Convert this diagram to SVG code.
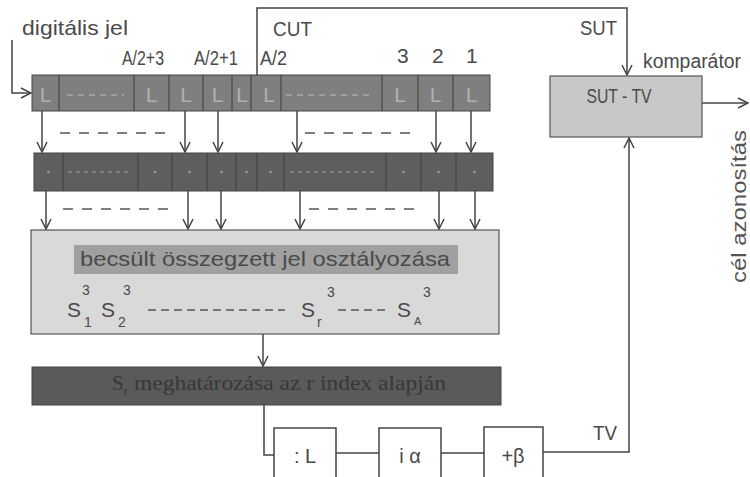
<svg xmlns="http://www.w3.org/2000/svg" width="750" height="477" viewBox="0 0 750 477">
<style>
text{font-family:"Liberation Sans",Arial,sans-serif;fill:#4a4a4a}
.lbl{font-size:20px}
.sm{font-size:14px}
.ln{fill:none;stroke:#444;stroke-width:1.5}
.arr{fill:none;stroke:#444;stroke-width:1.5;marker-end:url(#ah)}
.div{stroke:#3c3c3c;stroke-width:1}
.dash{stroke:#555;stroke-width:1.5;stroke-dasharray:10,9}
.L{font-size:21px;fill:#b0b0b0;text-anchor:middle}
.dot{fill:#9a9a9a}
</style>
<defs>
<marker id="ah" viewBox="0 0 12 12" refX="11" refY="6" markerWidth="12" markerHeight="12" markerUnits="userSpaceOnUse" orient="auto">
<path d="M1,1 L11,6 L1,11" fill="none" stroke="#444" stroke-width="1.5"/>
</marker>
</defs>
<rect width="750" height="477" fill="#ffffff"/>

<g id="connectors">
<path class="arr" d="M12,40 V93 H31"/>
<path class="arr" d="M257,111 V8 H627 V75"/>
<path class="arr" d="M702,103 H748"/>
<path class="arr" d="M543,452 H629 V138"/>
<path class="arr" d="M42,111 V152"/>
<path class="arr" d="M185,111 V152"/>
<path class="arr" d="M218,111 V152"/>
<path class="arr" d="M297,111 V152"/>
<path class="arr" d="M436,111 V152"/>
<path class="arr" d="M471,111 V152"/>
<line class="dash" x1="60" y1="133" x2="168" y2="133"/>
<line class="dash" x1="305" y1="133" x2="417" y2="133"/>
<path class="arr" d="M46,191 V229"/>
<path class="arr" d="M188,191 V229"/>
<path class="arr" d="M221,191 V229"/>
<path class="arr" d="M300,191 V229"/>
<path class="arr" d="M439,191 V229"/>
<path class="arr" d="M475,191 V229"/>
<line class="dash" x1="63" y1="209" x2="172" y2="209"/>
<line class="dash" x1="309" y1="209" x2="421" y2="209"/>
<path class="arr" d="M263,334 V366"/>
<path class="ln" d="M264,405 V455 H274"/>
<path class="ln" d="M336,453 H379"/>
<path class="ln" d="M441,453 H484"/>
</g>

<g id="labels">
<text class="lbl" x="22" y="35" style="font-size:21px" textLength="106" lengthAdjust="spacingAndGlyphs">digitális jel</text>
<text class="lbl" x="122" y="65" textLength="42" lengthAdjust="spacingAndGlyphs">A/2+3</text>
<text class="lbl" x="194" y="65" textLength="44" lengthAdjust="spacingAndGlyphs">A/2+1</text>
<text class="lbl" x="260" y="65" textLength="27" lengthAdjust="spacingAndGlyphs">A/2</text>
<text class="lbl" x="273" y="36" textLength="39" lengthAdjust="spacingAndGlyphs">CUT</text>
<text class="lbl" x="397" y="63" style="font-size:21px">3</text>
<text class="lbl" x="432" y="63" style="font-size:21px">2</text>
<text class="lbl" x="466" y="63" style="font-size:21px">1</text>
<text class="lbl" x="580" y="35" textLength="37" lengthAdjust="spacingAndGlyphs">SUT</text>
<text class="lbl" x="643" y="68" textLength="98" lengthAdjust="spacingAndGlyphs">komparátor</text>
<text class="lbl" x="593" y="440" textLength="24" lengthAdjust="spacingAndGlyphs">TV</text>
<text class="lbl" transform="translate(746,283) rotate(-90)" style="fill:#555" textLength="153" lengthAdjust="spacingAndGlyphs">cél azonosítás</text>
</g>

<g id="row1">
<rect x="32" y="75" width="458" height="36" fill="#7f7f7f" stroke="#444" stroke-width="1"/>
<line class="div" x1="59" y1="75" x2="59" y2="111"/>
<line class="div" x1="134" y1="75" x2="134" y2="111"/>
<line class="div" x1="169" y1="75" x2="169" y2="111"/>
<line class="div" x1="203" y1="75" x2="203" y2="111"/>
<line class="div" x1="232" y1="75" x2="232" y2="111"/>
<line class="div" x1="251" y1="75" x2="251" y2="111"/>
<line class="div" x1="281" y1="75" x2="281" y2="111"/>
<line class="div" x1="382" y1="75" x2="382" y2="111"/>
<line class="div" x1="418" y1="75" x2="418" y2="111"/>
<line class="div" x1="453" y1="75" x2="453" y2="111"/>
<text class="L" x="45.5" y="102">L</text>
<text class="L" x="151.5" y="102">L</text>
<text class="L" x="186" y="102">L</text>
<text class="L" x="217.5" y="102">L</text>
<text class="L" x="242" y="102">L</text>
<text class="L" x="269" y="102">L</text>
<text class="L" x="400" y="102">L</text>
<text class="L" x="435.5" y="102">L</text>
<text class="L" x="471.5" y="102">L</text>
<line x1="67" y1="95" x2="124" y2="95" stroke="#aaa" stroke-width="1.5" stroke-dasharray="6,5"/>
<line x1="286" y1="95" x2="370" y2="95" stroke="#aaa" stroke-width="1.5" stroke-dasharray="6,5"/>
</g>

<g id="row2">
<rect x="34" y="153" width="459" height="38" fill="#5e5e5e" stroke="#444" stroke-width="1"/>
<line class="div" x1="63" y1="153" x2="63" y2="191"/>
<line class="div" x1="138" y1="153" x2="138" y2="191"/>
<line class="div" x1="172" y1="153" x2="172" y2="191"/>
<line class="div" x1="207" y1="153" x2="207" y2="191"/>
<line class="div" x1="236" y1="153" x2="236" y2="191"/>
<line class="div" x1="257" y1="153" x2="257" y2="191"/>
<line class="div" x1="284" y1="153" x2="284" y2="191"/>
<line class="div" x1="386" y1="153" x2="386" y2="191"/>
<line class="div" x1="421" y1="153" x2="421" y2="191"/>
<line class="div" x1="456" y1="153" x2="456" y2="191"/>
<circle class="dot" cx="48.5" cy="172" r="1.3"/>
<circle class="dot" cx="155" cy="172" r="1.3"/>
<circle class="dot" cx="189.5" cy="172" r="1.3"/>
<circle class="dot" cx="221.5" cy="172" r="1.3"/>
<circle class="dot" cx="246.5" cy="172" r="1.3"/>
<circle class="dot" cx="270.5" cy="172" r="1.3"/>
<circle class="dot" cx="403.5" cy="172" r="1.3"/>
<circle class="dot" cx="438.5" cy="172" r="1.3"/>
<circle class="dot" cx="474.5" cy="172" r="1.3"/>
<line x1="68" y1="172" x2="132" y2="172" stroke="#8a8a8a" stroke-width="1.3" stroke-dasharray="4,4"/>
<line x1="290" y1="172" x2="378" y2="172" stroke="#8a8a8a" stroke-width="1.3" stroke-dasharray="4,4"/>
</g>

<g id="classifier">
<rect x="31" y="230" width="468" height="104" fill="#d9d9d9" stroke="#555" stroke-width="1.2"/>
<rect x="74" y="245" width="384" height="29" fill="#a0a0a0"/>
<text class="lbl" x="80" y="266" style="font-size:21px" textLength="370" lengthAdjust="spacingAndGlyphs">becsült összegzett jel osztályozása</text>
<text class="lbl" x="67" y="317" style="font-size:21px">S</text><text class="sm" x="84" y="327">1</text><text class="sm" x="82" y="295">3</text>
<text class="lbl" x="101" y="317" style="font-size:21px">S</text><text class="sm" x="118" y="327">2</text><text class="sm" x="123" y="295">3</text>
<line x1="148" y1="310" x2="285" y2="310" stroke="#555" stroke-width="1.5" stroke-dasharray="8,5"/>
<text class="lbl" x="301" y="317" style="font-size:21px">S</text><text class="sm" x="317" y="327">r</text><text class="sm" x="327" y="297">3</text>
<line x1="338" y1="310" x2="387" y2="310" stroke="#555" stroke-width="1.5" stroke-dasharray="8,5"/>
<text class="lbl" x="397" y="317" style="font-size:21px">S</text><text style="font-size:11px" x="414" y="325">A</text><text class="sm" x="423" y="297">3</text>
</g>

<g id="selector">
<rect x="32" y="367" width="469" height="38" fill="#5a5a5a" stroke="#444" stroke-width="1"/>
<text x="112" y="390" style="font-family:'Liberation Serif','Times New Roman',serif;font-size:21px;fill:#383838">S<tspan dy="5" style="font-size:13px">r</tspan><tspan dy="-5" textLength="318" lengthAdjust="spacingAndGlyphs"> meghatározása az r index alapján</tspan></text>
</g>

<g id="divL">
<rect x="274" y="428" width="62" height="60" fill="#fff" stroke="#444" stroke-width="1.5"/>
<text class="lbl" x="305" y="463" text-anchor="middle">: L</text>
</g>
<g id="mulAlpha">
<rect x="379" y="428" width="62" height="60" fill="#fff" stroke="#444" stroke-width="1.5"/>
<text class="lbl" x="410" y="463" text-anchor="middle">i α</text>
</g>
<g id="addBeta">
<rect x="484" y="427" width="59" height="60" fill="#fff" stroke="#444" stroke-width="1.5"/>
<text class="lbl" x="513" y="463" text-anchor="middle">+β</text>
</g>

<g id="comparator">
<rect x="550" y="76" width="152" height="61" fill="#c8c8c8" stroke="#555" stroke-width="1.2"/>
<text class="lbl" x="619" y="103" text-anchor="middle" textLength="65" lengthAdjust="spacingAndGlyphs">SUT - TV</text>
</g>
</svg>
